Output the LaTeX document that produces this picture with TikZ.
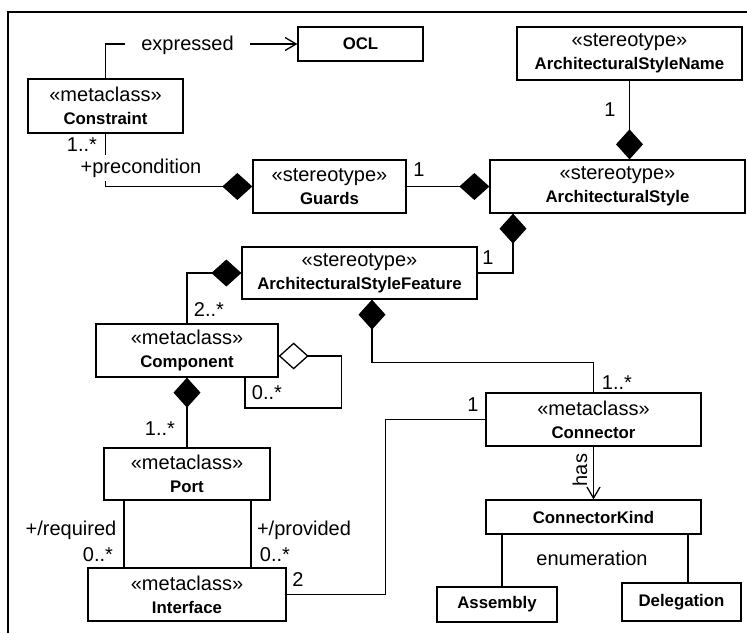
\documentclass[tikz,border=0pt]{standalone}
\usepackage{fontspec}
\setmainfont{Liberation Sans}
\usetikzlibrary{arrows.meta}

\newcommand{\cname}[1]{{\fontsize{16.8}{23}\selectfont\bfseries #1}}

\begin{document}
\begin{tikzpicture}[x=1pt, y=-1pt, line width=1.3pt,
  umlbox/.style={draw, align=center, inner sep=0pt, font=\fontsize{20}{23}\selectfont},
  lbl/.style={inner sep=1pt, font=\fontsize{20}{23}\selectfont},
  comp/.style={{Diamond[length=30pt,width=27pt]}-},
  aggr/.style={{Diamond[open,length=30pt,width=27pt]}-},
  nav/.style={-{Straight Barb[length=11pt,width=13pt]}}]
  \useasboundingbox (0,0) rectangle (747,633);
  \draw (8,633) -- (8,12) -- (747,12);

  % classes
  \node[umlbox, minimum width=125pt, minimum height=34pt] (ocl) at (360.5,44) {\cname{OCL}};
  \node[umlbox, minimum width=155pt, minimum height=54pt] (constraint) at (105.5,106) {«metaclass»\\\cname{Constraint}};
  \node[umlbox, minimum width=153pt, minimum height=53pt] (guards) at (329.5,186.5) {«stereotype»\\\cname{Guards}};
  \node[umlbox, minimum width=225pt, minimum height=53pt] (stylename) at (629.5,53.5) {«stereotype»\\\cname{ArchitecturalStyleName}};
  \node[umlbox, minimum width=255pt, minimum height=53pt] (style) at (617.5,186.5) {«stereotype»\\\cname{ArchitecturalStyle}};
  \node[umlbox, minimum width=235pt, minimum height=52pt] (feature) at (359.5,273) {«stereotype»\\\cname{ArchitecturalStyleFeature}};
  \node[umlbox, minimum width=182pt, minimum height=53pt] (component) at (187,350.5) {«metaclass»\\\cname{Component}};
  \node[umlbox, minimum width=166pt, minimum height=52pt] (port) at (187,474) {«metaclass»\\\cname{Port}};
  \node[umlbox, minimum width=198pt, minimum height=53pt] (interface) at (187,594.5) {«metaclass»\\\cname{Interface}};
  \node[umlbox, minimum width=215pt, minimum height=53pt] (connector) at (593.5,419.5) {«metaclass»\\\cname{Connector}};
  \node[umlbox, minimum width=215pt, minimum height=34pt] (kind) at (593.5,517) {\cname{ConnectorKind}};
  \node[umlbox, minimum width=120pt, minimum height=35pt] (assembly) at (497,604.5) {\cname{Assembly}};
  \node[umlbox, minimum width=119pt, minimum height=38pt] (delegation) at (681.5,602) {\cname{Delegation}};

  % associations
  \draw[nav] (constraint.north) |- (ocl.west);
  \draw[comp] (guards.west) -| (constraint.south);
  \draw[comp] (style.west) -- (guards.east);
  \draw[comp] (stylename.south |- style.north) -- (stylename.south);
  \draw[comp] ([xshift=-104.5pt]style.south) |- (feature.east);
  \draw[comp] (feature.west) -| (component.north);
  \draw[comp] ([xshift=12.5pt]feature.south) -- ++(0,63) -| (connector.north);
  \draw[aggr] ([yshift=-5.5pt]component.east) -| ++(63,52) -| ([xshift=58pt]component.south);
  \draw[comp] (component.south) -- (port.north);
  \foreach \dx in {-63,64}
    \draw ([xshift=\dx pt]port.south) -- ([xshift=\dx pt]port.south |- interface.north);
  \draw (interface.east) -- ++(99,0) |- (connector.west);
  \draw[nav] (connector.south) -- (kind.north);
  \draw ([xshift=-91.5pt]kind.south) -- ([xshift=-91.5pt]kind.south |- assembly.north);
  \draw ([xshift=94.5pt]kind.south) -- ([xshift=94.5pt]kind.south |- delegation.north);

  % labels
  \node[lbl, fill=white, inner xsep=16pt] (expr) at (187.5,45) {expressed};
  \node[lbl, fill=white, inner ysep=4pt] (precond) at (141,168) {+precondition};
  \node[lbl] (m1) at (82,145) {1..*};
  \node[lbl] (m2) at (419,170) {1};
  \node[lbl] (m3) at (610,110) {1};
  \node[lbl] (m4) at (488,258) {1};
  \node[lbl] (m5) at (209,310) {2..*};
  \node[lbl] (m6) at (617,383) {1..*};
  \node[lbl] (m7) at (267,393) {0..*};
  \node[lbl] (m8) at (160,429) {1..*};
  \node[lbl] (req) at (71,530) {+/required};
  \node[lbl] (m9) at (98,555) {0..*};
  \node[lbl] (prov) at (304,530) {+/provided};
  \node[lbl] (m10) at (275,555) {0..*};
  \node[lbl] (m11) at (298,580) {2};
  \node[lbl] (m12) at (473,405) {1};
  \node[lbl, rotate=90] (has) at (580,470) {has};
  \node[lbl] (enum) at (592,558) {enumeration};
\end{tikzpicture}
\end{document}
